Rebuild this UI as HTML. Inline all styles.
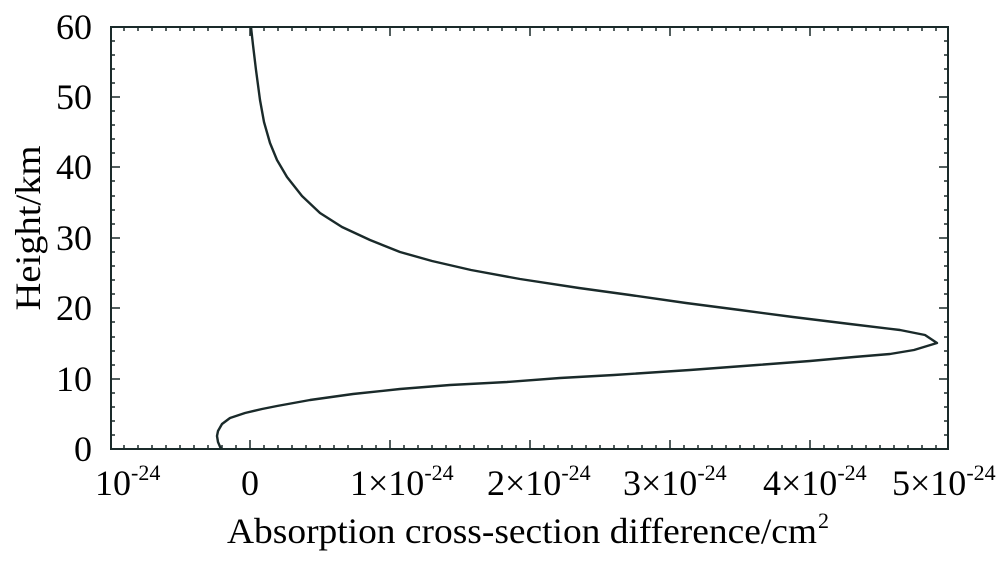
<!DOCTYPE html>
<html><head><style>body{margin:0;background:#fff}</style></head><body>
<svg width="1000" height="556" xmlns="http://www.w3.org/2000/svg" font-family="Liberation Serif, serif" fill="#000">
<g stroke="#1a2a2a" stroke-width="1.5">
<path d="M124,449v-4M138,449v-4M152,449v-4M166,449v-4M180,449v-4M194,449v-4M208,449v-4M222,449v-4M236,449v-4M264,449v-4M278,449v-4M292,449v-4M306,449v-4M320,449v-4M334,449v-4M348,449v-4M362,449v-4M376,449v-4M404,449v-4M418,449v-4M432,449v-4M446,449v-4M460,449v-4M474,449v-4M488,449v-4M502,449v-4M516,449v-4M544,449v-4M558,449v-4M572,449v-4M586,449v-4M600,449v-4M614,449v-4M628,449v-4M642,449v-4M656,449v-4M684,449v-4M698,449v-4M712,449v-4M726,449v-4M740,449v-4M754,449v-4M768,449v-4M782,449v-4M796,449v-4M824,449v-4M838,449v-4M852,449v-4M866,449v-4M880,449v-4M894,449v-4M908,449v-4M922,449v-4M936,449v-4"/>
<path d="M124,27v4M138,27v4M152,27v4M166,27v4M180,27v4M194,27v4M208,27v4M222,27v4M236,27v4M264,27v4M278,27v4M292,27v4M306,27v4M320,27v4M334,27v4M348,27v4M362,27v4M376,27v4M404,27v4M418,27v4M432,27v4M446,27v4M460,27v4M474,27v4M488,27v4M502,27v4M516,27v4M544,27v4M558,27v4M572,27v4M586,27v4M600,27v4M614,27v4M628,27v4M642,27v4M656,27v4M684,27v4M698,27v4M712,27v4M726,27v4M740,27v4M754,27v4M768,27v4M782,27v4M796,27v4M824,27v4M838,27v4M852,27v4M866,27v4M880,27v4M894,27v4M908,27v4M922,27v4M936,27v4"/>
<path d="M250,449v-9M390,449v-9M530,449v-9M670,449v-9M810,449v-9M250,27v9M390,27v9M530,27v9M670,27v9M810,27v9"/>
<path d="M111,379h9M111,308h9M111,238h9M111,167h9M111,97h9M948,379h-9M948,308h-9M948,238h-9M948,167h-9M948,97h-9"/>
<path d="M111,435h4M111,421h4M111,407h4M111,393h4M111,365h4M111,351h4M111,337h4M111,322h4M111,294h4M111,280h4M111,266h4M111,252h4M111,224h4M111,210h4M111,196h4M111,181h4M111,153h4M111,139h4M111,125h4M111,111h4M111,83h4M111,69h4M111,55h4M111,41h4"/>
<path d="M948,435h-4M948,421h-4M948,407h-4M948,393h-4M948,365h-4M948,351h-4M948,337h-4M948,322h-4M948,294h-4M948,280h-4M948,266h-4M948,252h-4M948,224h-4M948,210h-4M948,196h-4M948,181h-4M948,153h-4M948,139h-4M948,125h-4M948,111h-4M948,83h-4M948,69h-4M948,55h-4M948,41h-4"/>
</g>
<rect x="111" y="27" width="837" height="422" fill="none" stroke="#1a2a2a" stroke-width="2"/>
<polyline fill="none" stroke="#1a2a2a" stroke-width="2.4" stroke-linejoin="round" points="221,449 218,442 217,436 218,431 222,424 230,418 245,413 262,409 277,406 310,400 353,394 400,389 450,385 507,382 560,378 614,375 690,370 757,365 810,361 854,357 890,354 914,350 937,343 925,335 900,330 850,324 793,317 740,310 686,303 630,295 579,288 520,279 471,270 432,261 400,252 370,240 342,227 320,213 302,196 287,177 277,160 270,143 264,122 260,100 256,70 253,45 251,27"/>
<g font-size="36" text-anchor="end">
<text x="92" y="461">0</text><text x="92" y="391">10</text><text x="92" y="320">20</text><text x="92" y="250">30</text><text x="92" y="179">40</text><text x="92" y="109">50</text><text x="92" y="39">60</text>
</g>
<g font-size="36">
<text x="95" y="495">10<tspan font-size="22" dy="-15">-24</tspan></text>
<text x="241" y="495">0</text>
<text x="350" y="495">1×10<tspan font-size="22" dy="-15">-24</tspan></text>
<text x="487" y="495">2×10<tspan font-size="22" dy="-15">-24</tspan></text>
<text x="623" y="495">3×10<tspan font-size="22" dy="-15">-24</tspan></text>
<text x="763" y="495">4×10<tspan font-size="22" dy="-15">-24</tspan></text>
<text x="892" y="495">5×10<tspan font-size="22" dy="-15">-24</tspan></text>
<text x="227" y="543" font-size="36" textLength="590" lengthAdjust="spacingAndGlyphs">Absorption cross-section difference/cm</text>
<text x="818" y="528" font-size="22">2</text>
<text transform="translate(40,228) rotate(-90)" text-anchor="middle" font-size="36" textLength="165" lengthAdjust="spacingAndGlyphs">Height/km</text>
</g>
</svg>
</body></html>
